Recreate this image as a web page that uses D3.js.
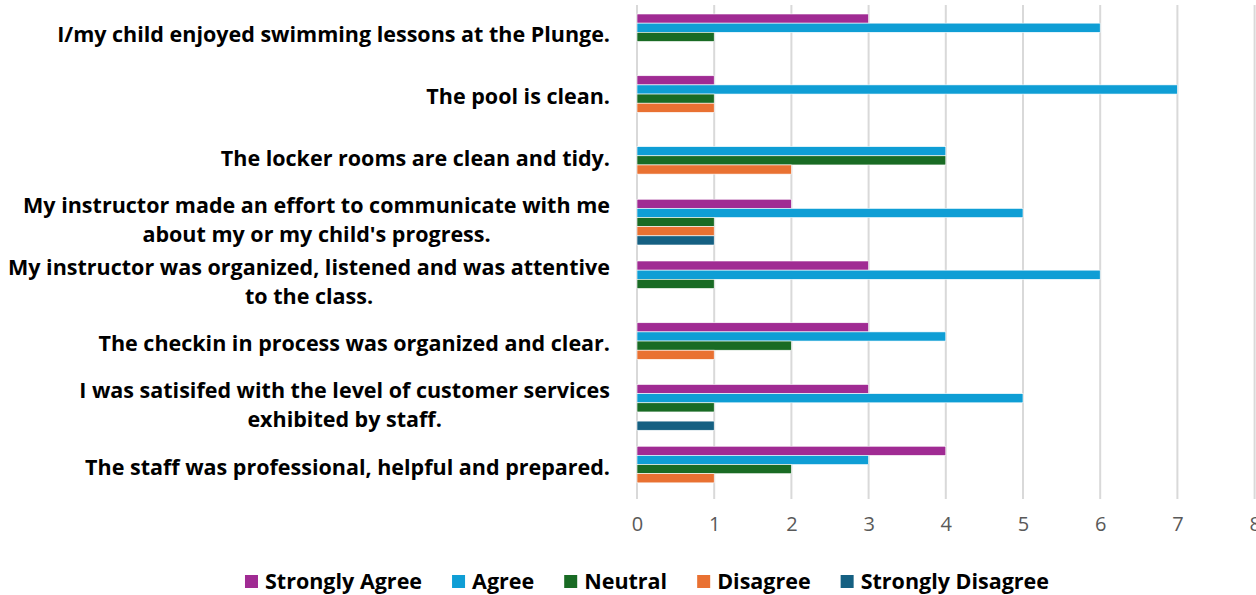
<!DOCTYPE html>
<html>
<head>
<meta charset="utf-8">
<script src="https://cdn.jsdelivr.net/npm/d3@7"></script>
<style>
  body { margin: 0; background: #fff; }
  text { font-family: "Open Sans", Lato, sans-serif; }
</style>
</head>
<body>
<div class="canvas"></div>
<script>
// data
const categories = [
  ['I/my child enjoyed swimming lessons at the Plunge.'],
  ['The pool is clean.'],
  ['The locker rooms are clean and tidy.'],
  ['My instructor made an effort to communicate with me', "about my or my child's progress."],
  ['My instructor was organized, listened and was attentive', 'to the class.'],
  ['The checkin in process was organized and clear.'],
  ['I was satisifed with the level of customer services', 'exhibited by staff.'],
  ['The staff was professional, helpful and prepared.']
];
const seriesNames = ['Strongly Agree', 'Agree', 'Neutral', 'Disagree', 'Strongly Disagree'];
const stronglyAgree = [3, 1, 0, 2, 3, 3, 3, 4];
const agree = [6, 7, 4, 5, 6, 4, 5, 3];
const neutral = [1, 1, 4, 1, 1, 2, 1, 2];
const disagree = [0, 1, 2, 1, 0, 1, 0, 1];
const stronglyDisagree = [0, 0, 0, 1, 0, 0, 1, 0];
const xTicks = [0, 1, 2, 3, 4, 5, 6, 7, 8];
const colors = ['#A02B93', '#0F9ED5', '#196B24', '#E97132', '#156082'];

const seriesValues = [stronglyAgree, agree, neutral, disagree, stronglyDisagree];
const rows = categories.map((c, i) => ({
  key: i, lines: c,
  values: seriesNames.map((s, j) => ({ series: s, value: seriesValues[j][i], color: colors[j] }))
}));

const width = 1256, height = 595;
const svg = d3.select('.canvas')
  .append('svg')
  .attr('width', width)
  .attr('height', height);

const margin = { top: 5, left: 637 };
const plotH = 494;

// scales
const x = d3.scaleLinear().domain([0, 8]).range([margin.left, margin.left + 617.6]);
const y0 = d3.scaleBand().domain(rows.map(r => r.key)).range([margin.top, margin.top + plotH]);
const y1 = d3.scaleBand().domain(seriesNames).range([9, y0.bandwidth() - 7]);

// gridlines
svg.append('g')
  .selectAll('line')
  .data(xTicks)
  .join('line')
  .attr('x1', d => x(d)).attr('x2', d => x(d))
  .attr('y1', margin.top).attr('y2', margin.top + plotH)
  .attr('stroke', '#d9d9d9')
  .attr('stroke-width', 2);

// x axis labels
const xAxis = d3.axisBottom(x).tickValues(xTicks).tickSize(0).tickPadding(0);
const xAxisGroup = svg.append('g')
  .attr('transform', `translate(0, ${margin.top + plotH + 14})`)
  .call(xAxis);
xAxisGroup.select('.domain').remove();
xAxisGroup.selectAll('text')
  .attr('fill', '#595959')
  .attr('font-size', 20)
  .attr('dy', '0.9em');

// bars
const groups = svg.append('g')
  .selectAll('g')
  .data(rows)
  .join('g')
  .attr('transform', d => `translate(0, ${y0(d.key)})`);

groups.selectAll('rect')
  .data(d => d.values.filter(v => v.value > 0))
  .join('rect')
  .attr('x', x(0))
  .attr('y', d => y1(d.series))
  .attr('width', d => x(d.value) - x(0))
  .attr('height', y1.bandwidth())
  .attr('fill', d => d.color)
  .attr('stroke', '#fff')
  .attr('stroke-width', 0.6);

// category labels
const labelRight = 610;
const labels = svg.append('g')
  .selectAll('text')
  .data(rows)
  .join('text')
  .attr('font-size', 21.5)
  .attr('font-weight', 'bold')
  .attr('fill', '#000')
  .attr('text-anchor', 'middle');

labels.each(function (d) {
  const t = d3.select(this);
  const cy = y0(d.key) + y0.bandwidth() / 2 - 1;
  const lh = 29;
  const spans = t.selectAll('tspan').data(d.lines).join('tspan')
    .text(s => s)
    .attr('y', (s, i) => cy + (i - (d.lines.length - 1) / 2) * lh)
    .attr('dy', '0.35em');
  let maxW = 0;
  spans.each(function () { maxW = Math.max(maxW, this.getComputedTextLength()); });
  spans.attr('x', labelRight - maxW / 2);
});

// legend
const legend = svg.append('g').attr('transform', 'translate(0, 581)');
const items = legend.selectAll('g')
  .data(seriesNames.map((s, i) => ({ name: s, color: colors[i] })))
  .join('g');
items.append('rect')
  .attr('y', -6).attr('width', 13).attr('height', 13)
  .attr('fill', d => d.color);
items.append('text')
  .attr('x', 20)
  .attr('dy', '0.35em')
  .attr('font-size', 21.5)
  .attr('font-weight', 'bold')
  .text(d => d.name);
let widths = [];
items.each(function () { widths.push(this.getBBox().width); });
const gap = 30;
const total = d3.sum(widths) + gap * (widths.length - 1);
let cx = 647 - total / 2;
items.attr('transform', (d, i) => {
  const t = `translate(${cx}, 0)`;
  cx += widths[i] + gap;
  return t;
});
</script>
</body>
</html>
